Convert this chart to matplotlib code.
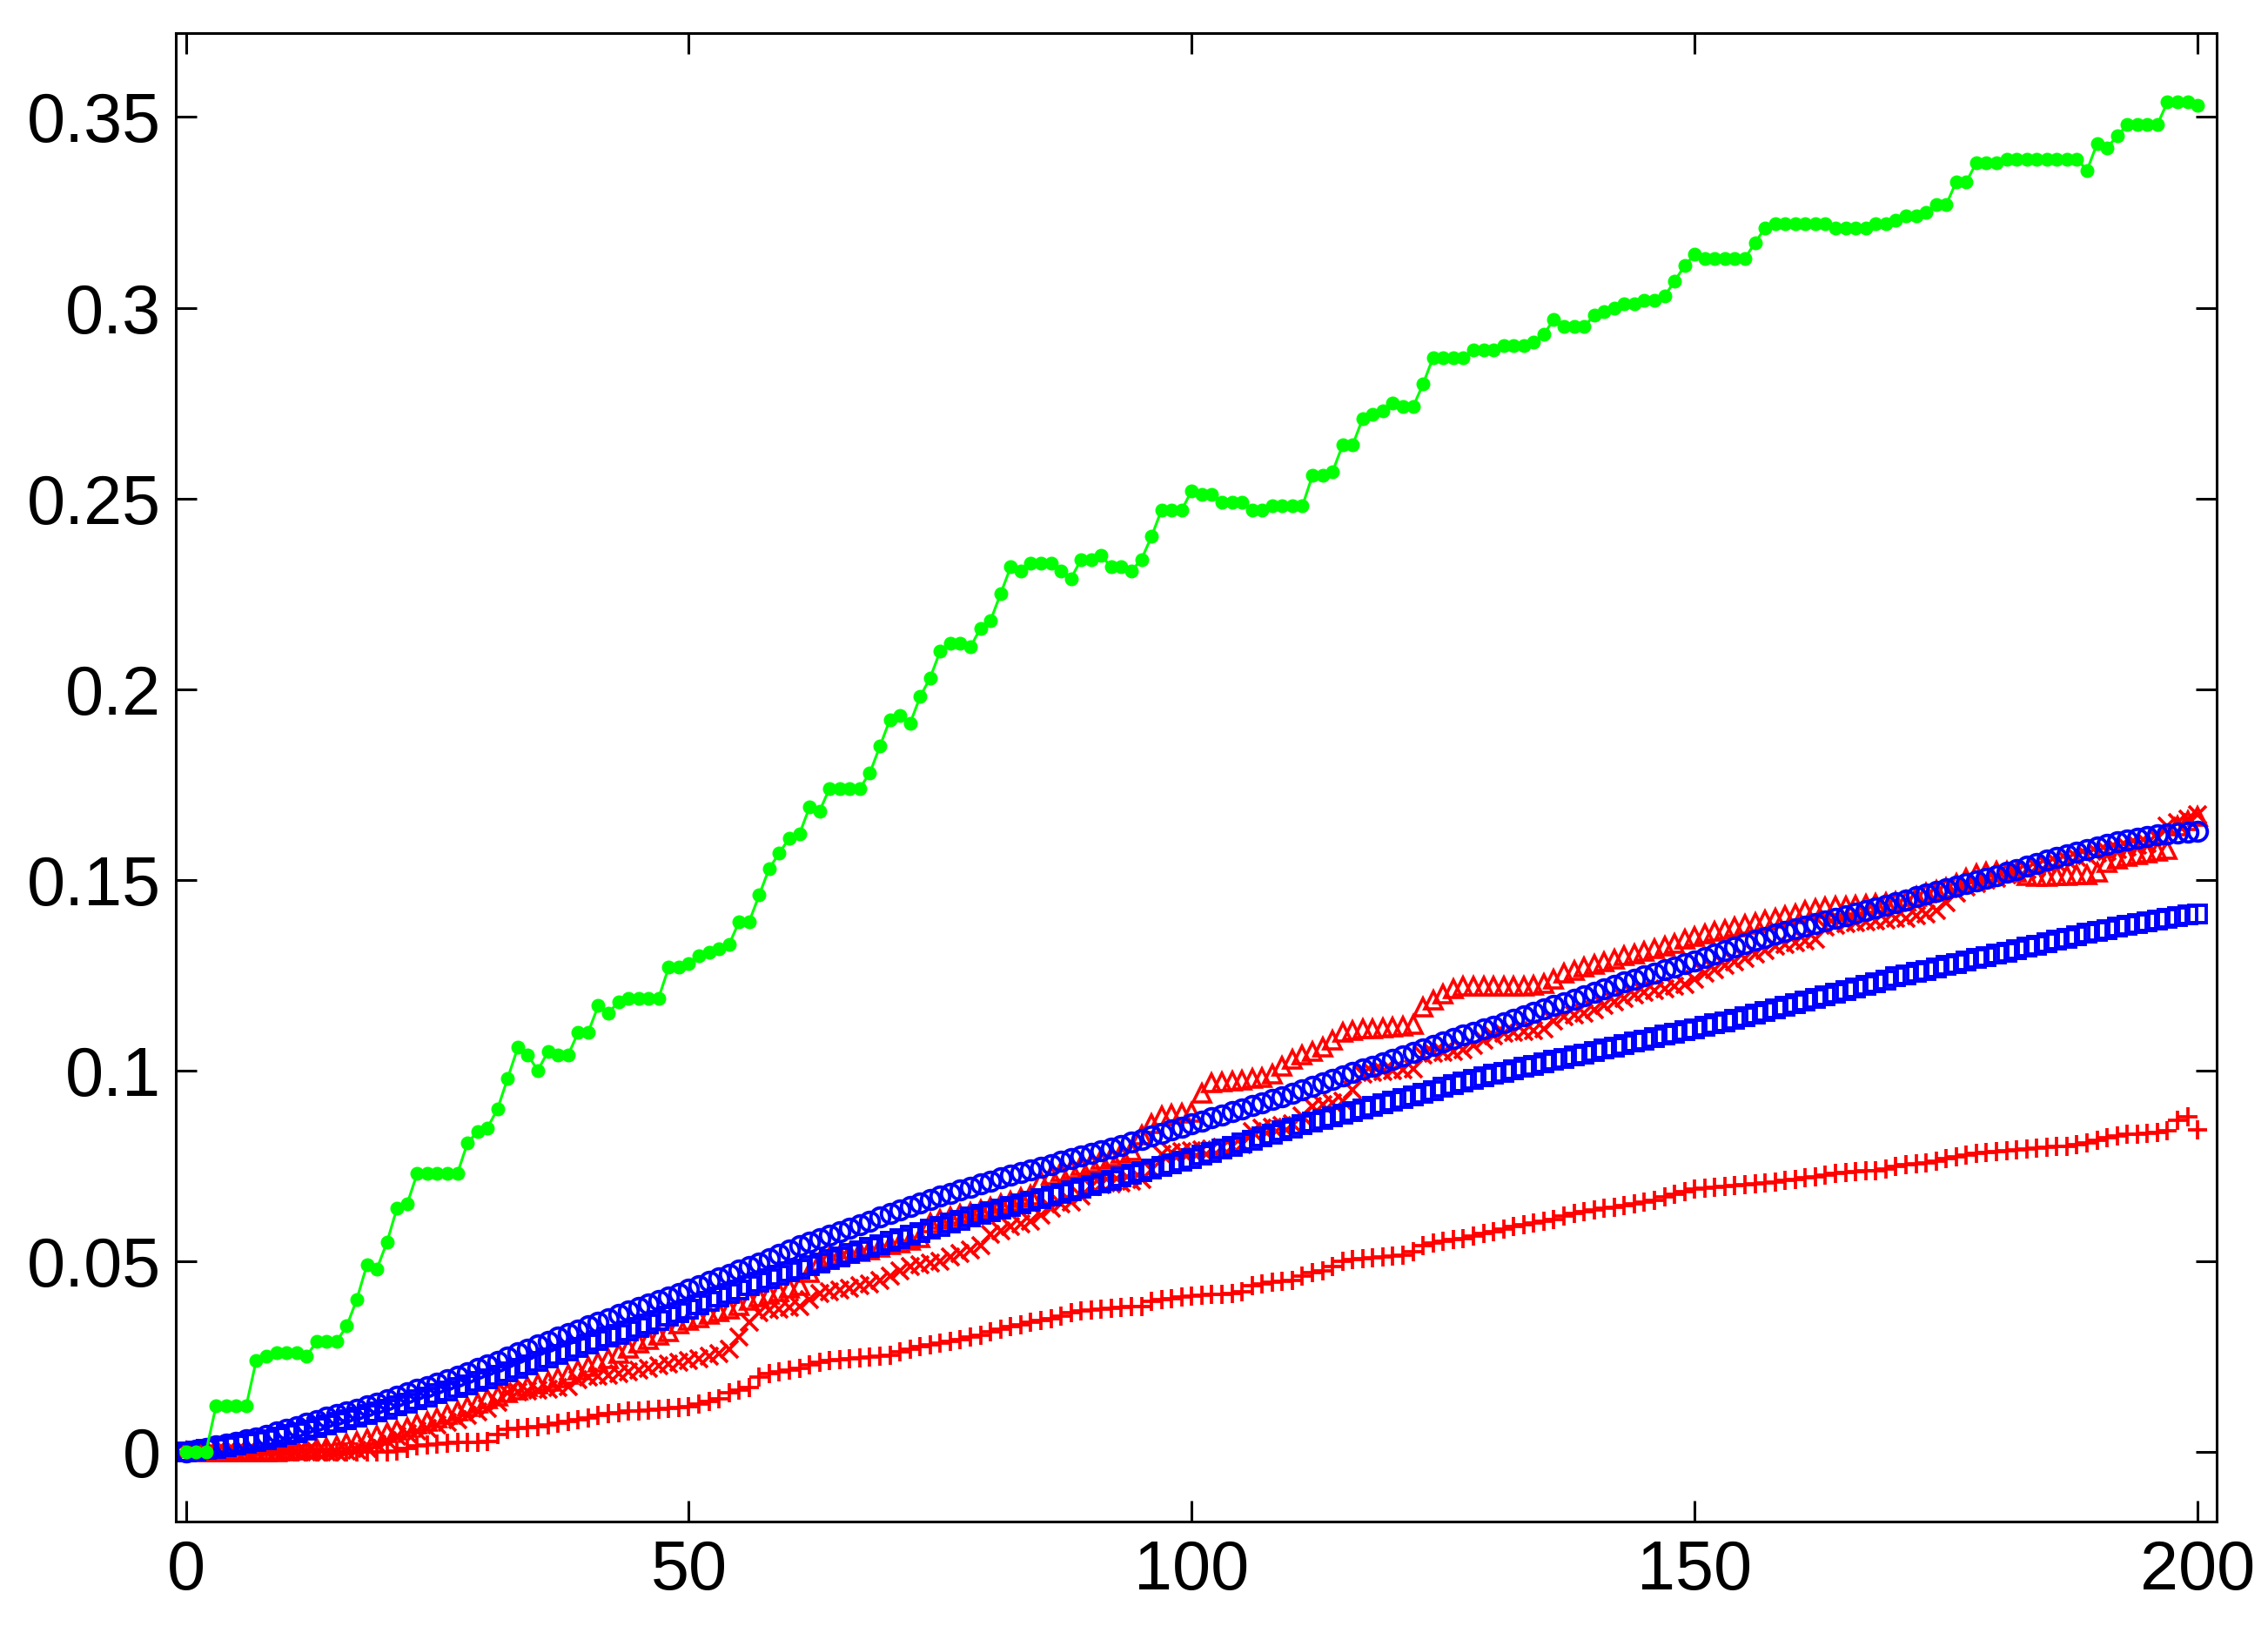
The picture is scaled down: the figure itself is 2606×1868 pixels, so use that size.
import numpy as np
import matplotlib
matplotlib.use('Agg')
import matplotlib.pyplot as plt

plt.rcParams['font.family'] = ['Liberation Sans', 'DejaVu Sans']

x = np.arange(0, 201)

# green dots, units of 1e-3
green = [0, 0, 0, 12, 12, 12, 12, 24, 25, 26,
         26, 26, 25, 29, 29, 29, 33, 40, 49, 48,
         55, 64, 65, 73, 73, 73, 73, 73, 81, 84,
         85, 90, 98, 106, 104, 100, 105, 104, 104, 110,
         110, 117, 115, 118, 119, 119, 119, 119, 127, 127,
         128, 130, 131, 132, 133, 139, 139, 146, 153, 157,
         161, 162, 169, 168, 174, 174, 174, 174, 178, 185,
         192, 193, 191, 198, 203, 210, 212, 212, 211, 216,
         218, 225, 232, 231, 233, 233, 233, 231, 229, 234,
         234, 235, 232, 232, 231, 234, 240, 247, 247, 247,
         252, 251, 251, 249, 249, 249, 247, 247, 248, 248,
         248, 248, 256, 256, 257, 264, 264, 271, 272, 273,
         275, 274, 274, 280, 287, 287, 287, 287, 289, 289,
         289, 290, 290, 290, 291, 293, 297, 295, 295, 295,
         298, 299, 300, 301, 301, 302, 302, 303, 307, 311,
         314, 313, 313, 313, 313, 313, 317, 321, 322, 322,
         322, 322, 322, 322, 321, 321, 321, 321, 322, 322,
         323, 324, 324, 325, 327, 327, 333, 333, 338, 338,
         338, 339, 339, 339, 339, 339, 339, 339, 339, 336,
         343, 342, 345, 348, 348, 348, 348, 354, 354, 354,
         353]

# the rest in units of 1e-4
circ = [0, 5, 10, 15, 20, 25, 31, 37, 44, 52,
        60, 67, 74, 82, 90, 98, 105, 112, 120, 128,
        136, 145, 154, 163, 172, 181, 190, 199, 208, 218,
        228, 238, 249, 260, 270, 280, 290, 300, 310, 320,
        330, 340, 350, 360, 369, 378, 387, 396, 406, 416,
        426, 436, 446, 456, 466, 476, 486, 496, 506, 518,
        530, 540, 550, 560, 569, 578, 587, 596, 605, 615,
        625, 634, 643, 652, 661, 670, 678, 686, 694, 702,
        710, 718, 726, 733, 740, 747, 754, 761, 768, 775,
        782, 789, 796, 804, 812, 820, 828, 836, 844, 852,
        860, 868, 876, 884, 892, 900, 908, 916, 924, 932,
        940, 949, 958, 967, 976, 985, 994, 1003, 1012, 1021,
        1030, 1039, 1048, 1057, 1066, 1075, 1084, 1092, 1100, 1108,
        1116, 1125, 1134, 1143, 1152, 1161, 1170, 1178, 1187, 1196,
        1205, 1214, 1223, 1232, 1240, 1248, 1256, 1264, 1272, 1280,
        1288, 1297, 1306, 1315, 1324, 1333, 1341, 1349, 1357, 1364,
        1371, 1378, 1385, 1392, 1399, 1406, 1413, 1420, 1427, 1434,
        1441, 1448, 1455, 1462, 1469, 1476, 1483, 1490, 1497, 1504,
        1511, 1519, 1527, 1535, 1543, 1551, 1559, 1566, 1573, 1580,
        1587, 1593, 1599, 1604, 1609, 1613, 1617, 1620, 1623, 1625,
        1627]

sq = [0, 3, 6, 10, 14, 18, 22, 27, 32, 38,
      45, 51, 57, 63, 70, 77, 84, 91, 98, 105,
      112, 120, 128, 136, 144, 152, 160, 168, 176, 184,
      192, 201, 210, 219, 228, 237, 246, 255, 264, 273,
      282, 291, 300, 309, 318, 327, 336, 345, 355, 365,
      375, 385, 395, 405, 415, 425, 435, 445, 454, 463,
      472, 480, 488, 496, 504, 512, 520, 528, 536, 544,
      552, 560, 568, 576, 584, 592, 600, 608, 615, 622,
      629, 636, 643, 650, 657, 664, 671, 678, 685, 692,
      699, 706, 713, 720, 727, 734, 741, 748, 755, 762,
      769, 777, 785, 793, 801, 809, 817, 825, 833, 841,
      849, 857, 864, 871, 878, 885, 892, 899, 906, 913,
      920, 927, 934, 941, 948, 955, 962, 969, 976, 983,
      990, 996, 1002, 1008, 1014, 1020, 1026, 1032, 1038, 1044,
      1050, 1056, 1062, 1068, 1074, 1080, 1086, 1092, 1098, 1104,
      1110, 1116, 1122, 1128, 1134, 1140, 1147, 1154, 1161, 1168,
      1175, 1182, 1189, 1196, 1203, 1210, 1217, 1224, 1231, 1238,
      1245, 1251, 1257, 1263, 1269, 1275, 1281, 1287, 1293, 1299,
      1305, 1311, 1317, 1323, 1329, 1335, 1341, 1347, 1353, 1359,
      1365, 1370, 1375, 1380, 1385, 1390, 1395, 1400, 1404, 1407,
      1410]

tri = [0, 0, 0, 0, 0, 0, 0, 0, 0, 0,
       2, 4, 6, 9, 12, 16, 22, 28, 35, 42,
       50, 57, 64, 72, 80, 88, 98, 108, 118, 128,
       138, 146, 154, 162, 170, 177, 184, 194, 204, 214,
       224, 234, 245, 258, 272, 285, 295, 305, 315, 335,
       345, 352, 360, 368, 375, 383, 398, 405, 412, 420,
       428, 436, 470, 500, 510, 515, 520, 525, 530, 536,
       542, 548, 555, 562, 600, 610, 616, 622, 628, 635,
       642, 650, 658, 666, 674, 710, 725, 735, 742, 750,
       758, 766, 774, 782, 790, 830, 860, 880, 885, 888,
       890, 940, 968, 970, 972, 975, 978, 982, 990, 1010,
       1030, 1040, 1050, 1060, 1080, 1100, 1105, 1108, 1110, 1112,
       1114, 1116, 1120, 1165, 1185, 1200, 1215, 1220, 1220, 1220,
       1220, 1220, 1220, 1222, 1224, 1228, 1240, 1255, 1262, 1270,
       1278, 1285, 1292, 1300, 1306, 1312, 1318, 1325, 1332, 1345,
       1352, 1358, 1364, 1370, 1376, 1382, 1388, 1394, 1400, 1405,
       1410, 1420, 1425, 1428, 1430, 1432, 1434, 1436, 1438, 1440,
       1442, 1444, 1455, 1465, 1472, 1478, 1490, 1505, 1515, 1520,
       1522, 1522, 1520, 1510, 1508, 1508, 1510, 1510, 1512, 1514,
       1520, 1545, 1555, 1560, 1565, 1570, 1575, 1580, 1640, 1655,
       1665]

crs = [0, 0, 0, 0, 0, 0, 0, 0, 0, 0,
       0, 0, 0, 0, 0, 0, 2, 5, 10, 20,
       30, 40, 48, 55, 62, 70, 78, 85, 95, 105,
       115, 130, 155, 158, 160, 162, 165, 168, 172, 190,
       195, 198, 200, 205, 210, 215, 220, 225, 230, 235,
       240, 245, 250, 258, 270, 300, 340, 365, 372, 375,
       378, 382, 400, 415, 420, 425, 430, 435, 440, 450,
       460, 475, 485, 490, 495, 500, 510, 520, 530, 540,
       570, 580, 590, 598, 605, 620, 640, 650, 655, 670,
       695, 700, 702, 705, 710, 715, 740, 780, 785, 788,
       790, 792, 795, 798, 800, 805, 840, 848, 852, 856,
       860, 880, 905, 910, 915, 920, 950, 990, 995, 998,
       1000, 1002, 1005, 1040, 1045, 1048, 1050, 1055, 1065, 1080,
       1090, 1098, 1100, 1102, 1105, 1108, 1130, 1140, 1145, 1150,
       1160, 1170, 1180, 1190, 1198, 1205, 1210, 1215, 1220, 1225,
       1240, 1255, 1265, 1275, 1285, 1295, 1305, 1315, 1325, 1330,
       1335, 1340, 1345, 1375, 1380, 1385, 1388, 1390, 1392, 1395,
       1398, 1400, 1405, 1410, 1420, 1440, 1465, 1480, 1490, 1500,
       1505, 1512, 1520, 1527, 1534, 1540, 1546, 1552, 1558, 1564,
       1570, 1575, 1580, 1585, 1590, 1595, 1610, 1640, 1650, 1660,
       1670]

plus = [0, 0, 0, 0, 0, 0, 0, 0, 0, 0,
        0, 0, 0, 0, 0, 0, 0, 0, 0, 0,
        0, 2, 10, 15, 18, 20, 22, 24, 25, 26,
        28, 45, 58, 62, 64, 66, 70, 76, 80, 84,
        88, 95, 100, 103, 106, 108, 110, 112, 114, 116,
        118, 125, 132, 140, 155, 162, 168, 195, 205, 210,
        215, 220, 228, 235, 240, 242, 244, 246, 248, 250,
        254, 262, 270, 276, 280, 285, 290, 295, 300, 305,
        315, 322, 328, 334, 340, 345, 350, 355, 365, 370,
        372, 374, 376, 378, 380, 382, 395, 400, 402, 405,
        408, 410, 412, 414, 416, 420, 435, 440, 445, 448,
        450, 460, 470, 475, 485, 500, 505, 507, 509, 511,
        513, 515, 525, 540, 548, 552, 556, 560, 566, 572,
        578, 585, 590, 596, 600, 605, 610, 618, 625, 630,
        634, 638, 642, 646, 650, 654, 660, 668, 675, 682,
        688, 692, 694, 696, 698, 700, 702, 705, 708, 712,
        715, 718, 722, 726, 730, 732, 734, 736, 738, 742,
        748, 752, 755, 758, 762, 768, 774, 778, 782, 785,
        788, 790, 792, 794, 796, 798, 800, 802, 805, 810,
        818, 824, 828, 832, 834, 836, 838, 842, 870, 878,
        845]

xticks = [0, 50, 100, 150, 200]
yticks = [0, 0.05, 0.1, 0.15, 0.2, 0.25, 0.3, 0.35]
ylabels = ['0', '0.05', '0.1', '0.15', '0.2', '0.25', '0.3', '0.35']

fig = plt.figure(figsize=(26.06, 18.68), dpi=100)
ax = fig.add_axes([0.0775, 0.0642, 0.8999, 0.9154])

ax.plot(x, np.array(plus) / 1e4, '+', color=(1, 0, 0), ms=16, mew=2.7)
ax.plot(x, np.array(crs) / 1e4, 'x', color=(1, 0, 0), ms=14, mew=2.7)
ax.plot(x, np.array(tri) / 1e4, '^', color=(1, 0, 0), mfc='none', ms=15, mew=2.6)
ax.plot(x, np.array(sq) / 1e4, 's', color=(0, 0, 1), mfc='none', ms=14, mew=2.8)
ax.plot(x, np.array(circ) / 1e4, 'o', color=(0, 0, 1), mfc='none', ms=15.5, mew=2.8)
ax.plot(x, np.array(green) / 1e3, '-o', color=(0, 1, 0), ms=10.5, lw=2.2)

ax.set_xlim(-1, 201.9)
ax.set_ylim(-0.0183, 0.372)
ax.set_xticks(xticks)
ax.set_yticks(yticks)
ax.set_yticklabels(ylabels)
ax.tick_params(direction='in', length=17, width=2.2, top=True, right=True,
               labelsize=57, pad=12)
ax.tick_params(axis='x', pad=14)
for s in ax.spines.values():
    s.set_linewidth(2.2)

fig.savefig('out.png', dpi=100)
